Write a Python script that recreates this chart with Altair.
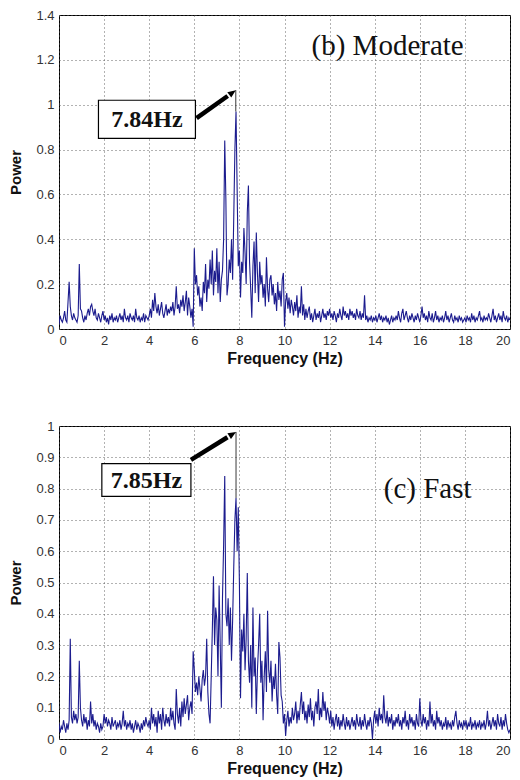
import altair as alt
import pandas as pd

# ---------------- data (power spectra, 0.05 Hz spacing, rows of 1 Hz) ----------------
moderate_rows = [
    [0.02,0.06,0.04,0.03,0.05,0.08,0.04,0.03,0.12,0.21,0.10,0.06,0.04,0.07,0.05,0.04,0.03,0.06,0.29,0.09],
    [0.08,0.05,0.03,0.06,0.04,0.07,0.09,0.06,0.10,0.11,0.08,0.06,0.09,0.05,0.04,0.07,0.05,0.03,0.06,0.08],
    [0.04,0.06,0.03,0.05,0.02,0.06,0.04,0.07,0.03,0.05,0.04,0.06,0.03,0.05,0.07,0.04,0.06,0.03,0.09,0.05],
    [0.04,0.06,0.03,0.07,0.05,0.04,0.06,0.03,0.09,0.05,0.04,0.06,0.03,0.05,0.04,0.07,0.03,0.06,0.05,0.04],
    [0.06,0.09,0.05,0.13,0.08,0.16,0.10,0.07,0.11,0.06,0.09,0.12,0.07,0.05,0.08,0.11,0.06,0.09,0.07,0.10],
    [0.08,0.12,0.06,0.10,0.19,0.09,0.11,0.07,0.13,0.10,0.15,0.08,0.12,0.17,0.06,0.14,0.10,0.05,0.09,0.01],
    [0.36,0.20,0.24,0.15,0.19,0.10,0.14,0.08,0.21,0.16,0.29,0.12,0.22,0.18,0.31,0.20,0.35,0.15,0.26,0.21],
    [0.36,0.16,0.30,0.12,0.22,0.26,0.40,0.84,0.58,0.15,0.20,0.31,0.25,0.40,0.22,0.50,0.80,0.97,0.62,0.28],
    [0.35,0.14,0.30,0.25,0.45,0.34,0.20,0.52,0.64,0.30,0.18,0.05,0.28,0.39,0.16,0.43,0.25,0.12,0.30,0.20],
    [0.24,0.14,0.20,0.10,0.32,0.18,0.12,0.22,0.24,0.15,0.20,0.11,0.16,0.08,0.21,0.13,0.17,0.10,0.22,0.25],
    [0.01,0.12,0.16,0.09,0.14,0.07,0.13,0.10,0.06,0.12,0.08,0.15,0.05,0.10,0.07,0.19,0.06,0.11,0.04,0.09],
    [0.05,0.08,0.10,0.04,0.07,0.03,0.06,0.09,0.04,0.07,0.05,0.08,0.03,0.06,0.09,0.05,0.07,0.04,0.08,0.06],
    [0.09,0.05,0.07,0.04,0.08,0.06,0.03,0.07,0.05,0.09,0.06,0.04,0.10,0.06,0.08,0.05,0.07,0.04,0.09,0.06],
    [0.08,0.05,0.07,0.04,0.09,0.06,0.05,0.08,0.04,0.07,0.05,0.15,0.04,0.06,0.03,0.05,0.04,0.06,0.03,0.05],
    [0.04,0.06,0.03,0.05,0.07,0.04,0.06,0.03,0.05,0.04,0.06,0.03,0.05,0.02,0.04,0.06,0.03,0.05,0.04,0.06],
    [0.04,0.08,0.05,0.03,0.07,0.09,0.04,0.06,0.08,0.05,0.03,0.06,0.04,0.07,0.05,0.03,0.06,0.04,0.07,0.05],
    [0.03,0.06,0.10,0.05,0.07,0.04,0.06,0.03,0.08,0.05,0.04,0.07,0.03,0.05,0.08,0.04,0.06,0.03,0.05,0.04],
    [0.06,0.03,0.05,0.08,0.04,0.06,0.03,0.05,0.07,0.04,0.03,0.06,0.04,0.05,0.03,0.06,0.04,0.05,0.03,0.04],
    [0.05,0.03,0.06,0.04,0.05,0.03,0.07,0.04,0.06,0.03,0.05,0.04,0.06,0.08,0.04,0.05,0.03,0.06,0.04,0.05],
    [0.04,0.07,0.05,0.03,0.06,0.09,0.04,0.06,0.03,0.05,0.07,0.04,0.06,0.03,0.08,0.05,0.04,0.06,0.03,0.05],
    [0.04],
]

fast_rows = [
    [0.05,0.02,0.04,0.03,0.06,0.04,0.02,0.05,0.03,0.06,0.32,0.07,0.05,0.09,0.06,0.08,0.05,0.07,0.25,0.10],
    [0.06,0.04,0.08,0.05,0.07,0.03,0.06,0.04,0.12,0.05,0.08,0.04,0.06,0.03,0.05,0.04,0.02,0.05,0.03,0.04],
    [0.08,0.05,0.07,0.04,0.06,0.05,0.03,0.07,0.04,0.05,0.06,0.03,0.05,0.04,0.06,0.03,0.05,0.09,0.04,0.06],
    [0.03,0.05,0.04,0.06,0.03,0.05,0.02,0.04,0.06,0.03,0.05,0.04,0.02,0.05,0.03,0.06,0.04,0.07,0.05,0.04],
    [0.06,0.03,0.10,0.05,0.08,0.04,0.07,0.02,0.09,0.05,0.08,0.03,0.10,0.06,0.04,0.08,0.05,0.07,0.04,0.10],
    [0.06,0.09,0.05,0.03,0.16,0.08,0.05,0.10,0.04,0.12,0.07,0.13,0.08,0.11,0.14,0.06,0.10,0.12,0.08,0.28],
    [0.22,0.15,0.18,0.14,0.20,0.16,0.12,0.19,0.22,0.17,0.20,0.32,0.15,0.08,0.05,0.20,0.35,0.52,0.30,0.42],
    [0.38,0.20,0.49,0.30,0.10,0.45,0.62,0.84,0.40,0.36,0.45,0.30,0.42,0.25,0.38,0.55,0.70,0.77,0.60,0.74],
    [0.50,0.13,0.35,0.28,0.40,0.22,0.32,0.53,0.25,0.18,0.30,0.10,0.42,0.20,0.26,0.08,0.22,0.30,0.40,0.18],
    [0.25,0.06,0.20,0.28,0.15,0.41,0.22,0.18,0.25,0.12,0.20,0.16,0.24,0.14,0.08,0.31,0.26,0.14,0.12,0.05],
    [0.08,0.01,0.06,0.09,0.04,0.07,0.05,0.10,0.06,0.08,0.12,0.05,0.09,0.06,0.11,0.15,0.08,0.12,0.06,0.09],
    [0.05,0.11,0.07,0.13,0.06,0.09,0.04,0.10,0.12,0.08,0.16,0.06,0.10,0.07,0.15,0.09,0.12,0.06,0.10,0.08],
    [0.05,0.09,0.04,0.07,0.03,0.06,0.08,0.04,0.07,0.03,0.06,0.04,0.08,0.05,0.03,0.07,0.04,0.06,0.03,0.05],
    [0.07,0.04,0.06,0.03,0.08,0.05,0.04,0.07,0.03,0.06,0.04,0.08,0.05,0.03,0.06,0.04,0.07,0.05,0.00,0.06],
    [0.09,0.05,0.08,0.04,0.10,0.06,0.08,0.05,0.14,0.07,0.05,0.09,0.04,0.07,0.05,0.08,0.03,0.06,0.04,0.07],
    [0.05,0.08,0.04,0.06,0.03,0.07,0.05,0.09,0.04,0.06,0.03,0.08,0.05,0.07,0.04,0.06,0.03,0.08,0.05,0.04],
    [0.13,0.06,0.04,0.08,0.05,0.07,0.03,0.06,0.04,0.12,0.05,0.08,0.04,0.06,0.03,0.09,0.05,0.07,0.04,0.06],
    [0.03,0.05,0.04,0.07,0.03,0.06,0.04,0.05,0.03,0.06,0.04,0.07,0.09,0.05,0.03,0.06,0.04,0.05,0.03,0.06],
    [0.04,0.06,0.03,0.05,0.04,0.07,0.03,0.05,0.04,0.06,0.03,0.05,0.04,0.06,0.03,0.05,0.04,0.06,0.03,0.05],
    [0.09,0.04,0.06,0.03,0.05,0.07,0.04,0.06,0.03,0.08,0.05,0.04,0.07,0.03,0.06,0.04,0.08,0.05,0.03,0.02],
    [0.03],
]

FREQ_STEP = 0.05
x_ticks = [0, 2, 4, 6, 8, 10, 12, 14, 16, 18, 20]
moderate_y_ticks = [0, 0.2, 0.4, 0.6, 0.8, 1.0, 1.2, 1.4]
fast_y_ticks = [0, 0.1, 0.2, 0.3, 0.4, 0.5, 0.6, 0.7, 0.8, 0.9, 1.0]

# annotation placement (data coordinates)
moderate_note = dict(title="(b) Moderate", title_x=11.2, title_y=1.263,
                     label="7.84Hz", box=(1.75, 6.05, 0.85, 1.02),
                     tail=(6.1, 0.94), shaft_end=(7.48, 1.039), tip=(7.84, 1.065),
                     peak=0.97, angle=54)
fast_note = dict(title="(c) Fast", title_x=14.4, title_y=0.80,
                 label="7.85Hz", box=(1.9, 5.85, 0.775, 0.88),
                 tail=(5.85, 0.892), shaft_end=(7.47, 0.964), tip=(7.85, 0.981),
                 peak=0.77, angle=58)

W = 451
H = 314
LINE_COLOR = "#1c1c8e"
HEAD_SHAPE = "M0,0 L-0.42,1 L0.42,1 Z"


def flatten(rows):
    out = []
    for r in rows:
        out.extend(r)
    return out


def panel(rows, y_max, y_ticks, note, height):
    power = flatten(rows)
    df = pd.DataFrame({"f": [round(i * FREQ_STEP, 2) for i in range(len(power))], "p": power})
    xs = alt.Scale(domain=[0, 20], nice=False, zero=False)
    ys = alt.Scale(domain=[0, y_max], nice=False, zero=True)
    xa = alt.Axis(values=x_ticks, format="d", title="Frequency (Hz)", grid=True)
    ya = alt.Axis(values=y_ticks, format=".1~f", title="Power", grid=True)

    def X(field="f"):
        return alt.X(f"{field}:Q", scale=xs, axis=xa)

    def Y(field="p"):
        return alt.Y(f"{field}:Q", scale=ys, axis=ya)

    line = alt.Chart(df).mark_line(color=LINE_COLOR, strokeWidth=1.1, clip=True).encode(
        x=X(), y=Y())

    bx0, bx1, by0, by1 = note["box"]
    box_df = pd.DataFrame({"f": [bx0], "f2": [bx1], "p": [by0], "p2": [by1]})
    box = alt.Chart(box_df).mark_rect(fill="white", stroke="black", strokeWidth=1.2).encode(
        x=X(), x2="f2:Q", y=Y(), y2="p2:Q")

    lab_df = pd.DataFrame({"f": [(bx0 + bx1) / 2], "p": [(by0 + by1) / 2]})
    lab = alt.Chart(lab_df).mark_text(text=note["label"], font="Liberation Serif", fontWeight="bold",
                                      fontSize=24, color="#111", baseline="middle", align="center",
                                      dy=1).encode(x=X(), y=Y())

    shaft_df = pd.DataFrame({"f": [note["tail"][0]], "p": [note["tail"][1]],
                             "f2": [note["shaft_end"][0]], "p2": [note["shaft_end"][1]]})
    shaft = alt.Chart(shaft_df).mark_rule(color="black", strokeWidth=4.5).encode(
        x=X(), y=Y(), x2="f2:Q", y2="p2:Q")

    head_df = pd.DataFrame({"f": [note["tip"][0]], "p": [note["tip"][1]]})
    head = alt.Chart(head_df).mark_point(shape=HEAD_SHAPE, filled=True, color="black", opacity=1,
                                         size=260, angle=note["angle"]).encode(x=X(), y=Y())

    vline_df = pd.DataFrame({"f": [note["tip"][0]], "p": [note["peak"]], "p2": [note["tip"][1]]})
    vline = alt.Chart(vline_df).mark_rule(color="#222", strokeWidth=0.9).encode(
        x=X(), y=Y(), y2="p2:Q")

    title_df = pd.DataFrame({"f": [note["title_x"]], "p": [note["title_y"]]})
    title = alt.Chart(title_df).mark_text(text=note["title"], font="Liberation Serif", fontSize=29,
                                          color="#111", align="left", baseline="middle").encode(
        x=X(), y=Y())

    return alt.layer(line, vline, box, lab, shaft, head, title).properties(width=W, height=height)


top = panel(moderate_rows, 1.4, moderate_y_ticks, moderate_note, 314)
bottom = panel(fast_rows, 1.0, fast_y_ticks, fast_note, 313)

chart = alt.vconcat(top, bottom, spacing=52).properties(
    padding={"left": 0, "top": 0, "right": 0, "bottom": 0}
).configure_view(
    stroke="black", strokeWidth=1
).configure_axis(
    labelFont="Liberation Sans", labelFontSize=13, labelColor="#333",
    titleFont="Liberation Sans", titleFontSize=15, titleFontWeight="bold", titleColor="#111",
    ticks=False, domain=False, gridDash=[1, 3], gridColor="#555", gridOpacity=0.9, gridWidth=1,
    labelPadding=5
).configure_axisY(
    titlePadding=12, labelPadding=5
).configure_axisX(
    titlePadding=3, labelPadding=5, titleFontSize=16
)

chart.save("out.html", embed_options={"renderer": "svg", "actions": False})
